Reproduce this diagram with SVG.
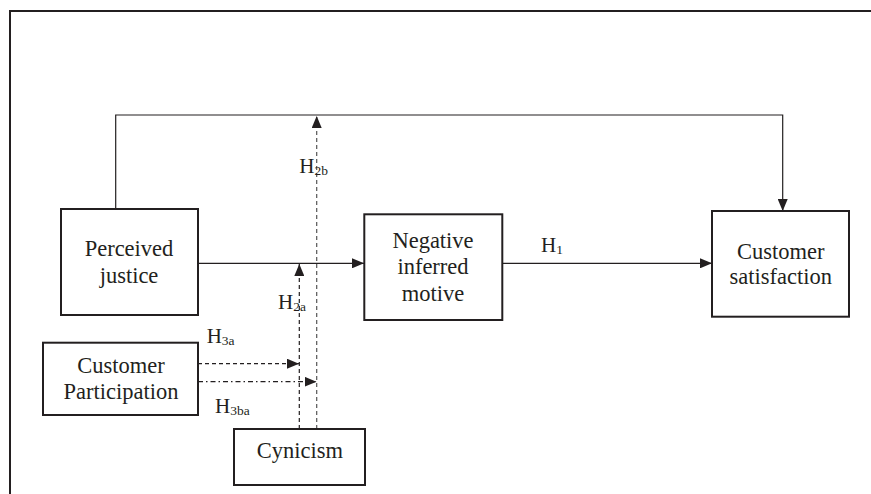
<svg xmlns="http://www.w3.org/2000/svg" width="871" height="494" viewBox="0 0 871 494">
<defs>
<style>
.box{fill:#fff;stroke:#231f20;stroke-width:2}
.t{font-family:'Liberation Serif','Times New Roman',Tinos,'DejaVu Serif',serif;font-size:22.5px;fill:#231f20;text-anchor:middle}
.h{font-family:'Liberation Serif','Times New Roman',Tinos,'DejaVu Serif',serif;font-size:21px;fill:#231f20}
.s{font-size:13.5px}
.c{fill:none;stroke:#231f20;stroke-width:1.2}
.d1{stroke-dasharray:4 3}
.d2{stroke:#555;stroke-dasharray:4 3}
.dd{stroke-dasharray:5 3 1.5 3}
</style>
<marker id="ah" viewBox="0 0 12 10" refX="12" refY="5" markerWidth="12" markerHeight="10" markerUnits="userSpaceOnUse" orient="auto">
<path d="M0,0 L12,5 L0,10 z" fill="#231f20"/>
</marker>
</defs>
<rect width="871" height="494" fill="#fff"/>
<path d="M10,494 V11 H871" fill="none" stroke="#231f20" stroke-width="2"/>
<g id="connectors">
<path class="c" d="M115.7,209 V115 H782.7 V211" marker-end="url(#ah)"/>
<path class="c" d="M198,263.3 H364" marker-end="url(#ah)"/>
<path class="c" d="M502,263.3 H712" marker-end="url(#ah)"/>
<path class="c d1" d="M299.3,429 V264" marker-end="url(#ah)"/>
<path class="c d2" d="M316.7,429 V116" marker-end="url(#ah)"/>
<path class="c d1" d="M198,363.7 H299" marker-end="url(#ah)"/>
<path class="c dd" d="M198,381.7 H316.5" marker-end="url(#ah)"/>
<text class="h" font-family="Liberation Serif, serif" x="541" y="252.3">H<tspan class="s" dy="1.5">1</tspan></text>
<text class="h" font-family="Liberation Serif, serif" x="299.3" y="172.7">H<tspan class="s" dy="2">2b</tspan></text>
<text class="h" font-family="Liberation Serif, serif" x="278" y="309">H<tspan class="s" dy="2">2a</tspan></text>
<text class="h" font-family="Liberation Serif, serif" x="206.7" y="342.7">H<tspan class="s" dy="2">3a</tspan></text>
<text class="h" font-family="Liberation Serif, serif" x="215" y="412.7">H<tspan class="s" dy="2">3ba</tspan></text>
</g>
<g id="perceived-justice">
<rect class="box" x="61" y="209" width="137" height="106"/>
<text class="t" x="129" y="256">Perceived</text>
<text class="t" x="129" y="282.7">justice</text>
</g>
<g id="negative-inferred-motive">
<rect class="box" x="364.3" y="214.3" width="138" height="105.7"/>
<text class="t" x="433" y="248">Negative</text>
<text class="t" x="433" y="274">inferred</text>
<text class="t" x="433" y="300.7">motive</text>
</g>
<g id="customer-satisfaction">
<rect class="box" x="712" y="211" width="137" height="105.7"/>
<text class="t" x="780.7" y="259">Customer</text>
<text class="t" x="780.7" y="284">satisfaction</text>
</g>
<g id="customer-participation">
<rect class="box" x="43" y="342.7" width="155" height="72.3"/>
<text class="t" x="121" y="373">Customer</text>
<text class="t" x="121" y="399">Participation</text>
</g>
<g id="cynicism">
<rect class="box" x="234" y="429" width="131" height="56"/>
<text class="t" x="300" y="458">Cynicism</text>
</g>
</svg>
